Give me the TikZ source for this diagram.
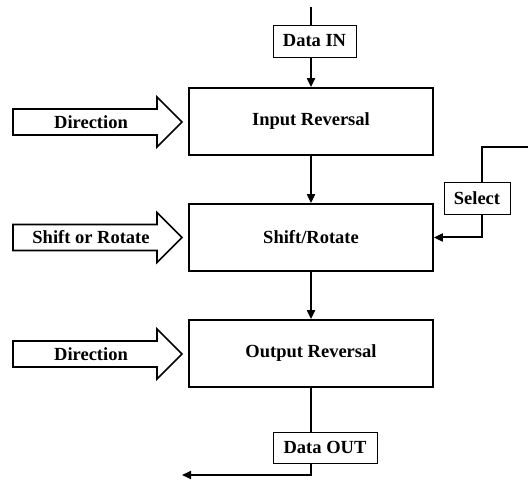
\documentclass[tikz,border=0pt]{standalone}
\usepackage{fontspec}
\setmainfont{Liberation Serif}
\usetikzlibrary{arrows.meta}
\begin{document}
\begin{tikzpicture}[x=1pt,y=-1pt,
  txt/.style={font=\fontsize{18.5}{21}\selectfont\bfseries},
  big/.style={draw, line width=1.8pt, minimum width=244pt, minimum height=67pt, inner sep=0pt, txt},
  lbl/.style={draw, line width=0.9pt, inner sep=0pt, txt},
  plain/.style={line width=2pt},
  wire/.style={line width=2pt, -{Triangle[length=9pt,width=8pt]}},
  fatarrow/.pic={\draw[line width=1.6pt, fill=white] (13,-13) -- (157,-13) -- (157,-25) -- (182,0) -- (157,25) -- (157,13) -- (13,13) -- cycle;}]
\useasboundingbox (0,0) rectangle (528,481);
% main blocks
\node[big] (ir) at (311,121.5) {Input Reversal};
\node[big] (sr) at (311,237.5) {Shift/Rotate};
\node[big] (orv) at (311,353.5) {Output Reversal};
% labels
\node[lbl, minimum width=83pt, minimum height=32pt] (din) at (314.5,41) {Data IN};
\node[lbl, minimum width=66pt, minimum height=32pt] (sel) at (477,198) {Select};
\node[lbl, minimum width=104pt, minimum height=31pt] (dout) at (325,447.5) {Data OUT};
% hollow input arrows
\pic at (0,122) {fatarrow};
\node[txt] (d1) at (91,122) {Direction};
\pic at (0,237.5) {fatarrow};
\node[txt] (sor) at (91,237.5) {Shift or Rotate};
\pic at (0,354) {fatarrow};
\node[txt] (d2) at (91,354) {Direction};
% data path
\coordinate (top) at (311,7);
\draw[plain] (top) -- (top |- din.north);
\draw[wire] (top |- din.south) -- (ir.north);
\draw[wire] (ir.south) -- (sr.north);
\draw[wire] (sr.south) -- (orv.north);
\draw[plain] (orv.south) -- (orv.south |- dout.north);
\coordinate (outend) at (182,475);
\draw[wire] (orv.south |- dout.south) -- (orv.south |- outend) -- (outend);
% select path
\coordinate (selin) at (530,147);
\coordinate (selx) at (482,147);
\draw[plain] (selin) -- (selx) -- (selx |- sel.north);
\draw[wire] (selx |- sel.south) -- (selx |- sr.east) -- (sr.east);
\end{tikzpicture}
\end{document}
